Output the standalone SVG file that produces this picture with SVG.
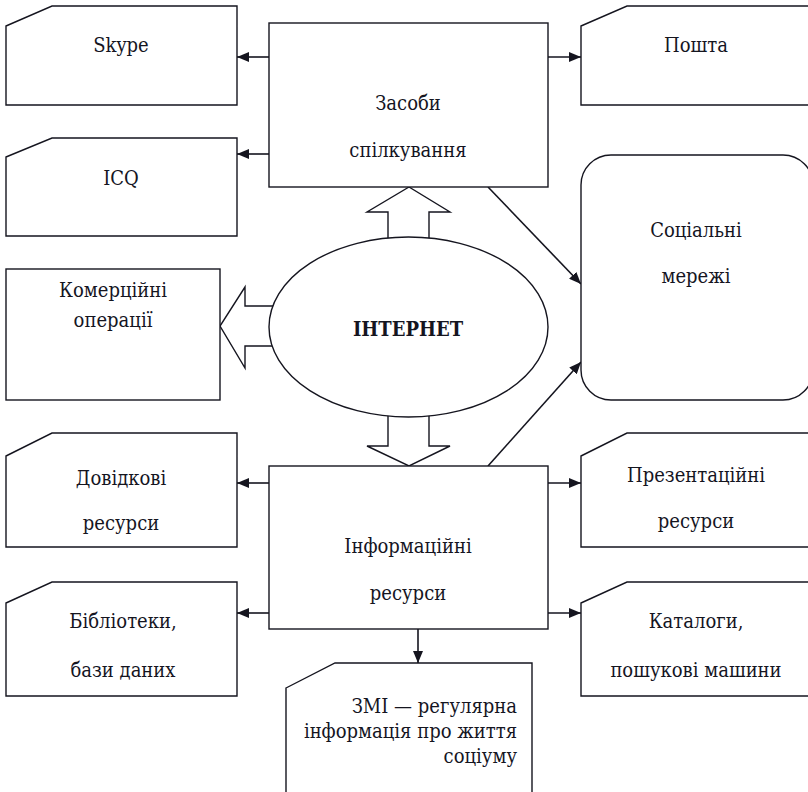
<svg xmlns="http://www.w3.org/2000/svg" width="808" height="792" viewBox="0 0 808 792">
<style>
.sh{fill:#fff;stroke:#15151f;stroke-width:1.4}
.ln{fill:none;stroke:#15151f;stroke-width:1.6}
.t{font-family:'DejaVu Serif Condensed','DejaVu Serif',serif;font-stretch:condensed;font-size:20px;fill:#15151f;text-anchor:middle}
.b{font-weight:bold}
.r{text-anchor:end}
</style>
<defs>
<marker id="ah2" viewBox="0 0 10 10" refX="10" refY="5" markerWidth="12" markerHeight="10" markerUnits="userSpaceOnUse" orient="auto" preserveAspectRatio="none">
<path d="M0,0 L10,5 L0,10 z" fill="#15151f"/>
</marker>
</defs>
<rect width="808" height="792" fill="#fff"/>
<g id="connectors">
<line class="ln" x1="269" y1="57" x2="237" y2="57" marker-end="url(#ah2)"/>
<line class="ln" x1="269" y1="154" x2="237" y2="154" marker-end="url(#ah2)"/>
<line class="ln" x1="548" y1="57" x2="581" y2="57" marker-end="url(#ah2)"/>
<line class="ln" x1="488" y1="187" x2="581" y2="284" marker-end="url(#ah2)"/>
<line class="ln" x1="488" y1="466" x2="581" y2="362" marker-end="url(#ah2)"/>
<line class="ln" x1="269" y1="483" x2="237" y2="483" marker-end="url(#ah2)"/>
<line class="ln" x1="269" y1="613" x2="237" y2="613" marker-end="url(#ah2)"/>
<line class="ln" x1="548" y1="483" x2="581" y2="483" marker-end="url(#ah2)"/>
<line class="ln" x1="548" y1="613" x2="581" y2="613" marker-end="url(#ah2)"/>
<line class="ln" x1="418" y1="629" x2="418" y2="663" marker-end="url(#ah2)"/>
<path class="sh" d="M388,242 V212 H367 L409,187 L450,212 H429 V242"/>
<path class="sh" d="M388,412 V446 H367 L409,466 L450,446 H429 V412"/>
<path class="sh" d="M276,306 H245 V287 L220,326 L245,368 V346 H276"/>
</g>
<g id="skype">
<path class="sh" d="M6,26 L52,6 H237 V105 H6 Z"/>
<text class="t" x="121" y="52">Skype</text>
</g>
<g id="icq">
<path class="sh" d="M6,157 L52,138 H237 V236 H6 Z"/>
<text class="t" x="121" y="185">ICQ</text>
</g>
<g id="zasoby">
<rect class="sh" x="269" y="23" width="279" height="164"/>
<text class="t" x="408" y="110">Засоби</text>
<text class="t" x="408" y="157">спілкування</text>
</g>
<g id="poshta">
<path class="sh" d="M581,26 L627,6 H812 V105 H581 Z"/>
<text class="t" x="696" y="52">Пошта</text>
</g>
<g id="social">
<rect class="sh" x="581" y="155" width="232" height="245" rx="30" ry="30"/>
<text class="t" x="696" y="237">Соціальні</text>
<text class="t" x="696" y="283">мережі</text>
</g>
<g id="commerce">
<rect class="sh" x="6" y="269" width="214" height="131"/>
<text class="t" x="113" y="297">Комерційні</text>
<text class="t" x="113" y="327">операції</text>
</g>
<g id="internet">
<ellipse class="sh" cx="408.5" cy="327" rx="139.5" ry="90"/>
<text class="t b" x="408" y="336">ІНТЕРНЕТ</text>
</g>
<g id="dovidkovi">
<path class="sh" d="M6,456 L52,433 H237 V547 H6 Z"/>
<text class="t" x="121" y="485">Довідкові</text>
<text class="t" x="121" y="530">ресурси</text>
</g>
<g id="biblioteky">
<path class="sh" d="M6,603 L52,582 H237 V696 H6 Z"/>
<text class="t" x="123" y="628">Бібліотеки,</text>
<text class="t" x="123" y="677">бази даних</text>
</g>
<g id="info">
<rect class="sh" x="269" y="466" width="279" height="163"/>
<text class="t" x="408" y="553">Інформаційні</text>
<text class="t" x="408" y="600">ресурси</text>
</g>
<g id="prezent">
<path class="sh" d="M581,456 L627,433 H812 V547 H581 Z"/>
<text class="t" x="696" y="482">Презентаційні</text>
<text class="t" x="696" y="528">ресурси</text>
</g>
<g id="kataloh">
<path class="sh" d="M581,603 L627,582 H812 V696 H581 Z"/>
<text class="t" x="696" y="628">Каталоги,</text>
<text class="t" x="696" y="677">пошукові машини</text>
</g>
<g id="zmi">
<path class="sh" d="M286,688 L335,663 H532 V800 H286 Z"/>
<text class="t r" x="517" y="713">ЗМІ — регулярна</text>
<text class="t r" x="517" y="738">інформація про життя</text>
<text class="t r" x="517" y="763">соціуму</text>
</g>
</svg>
